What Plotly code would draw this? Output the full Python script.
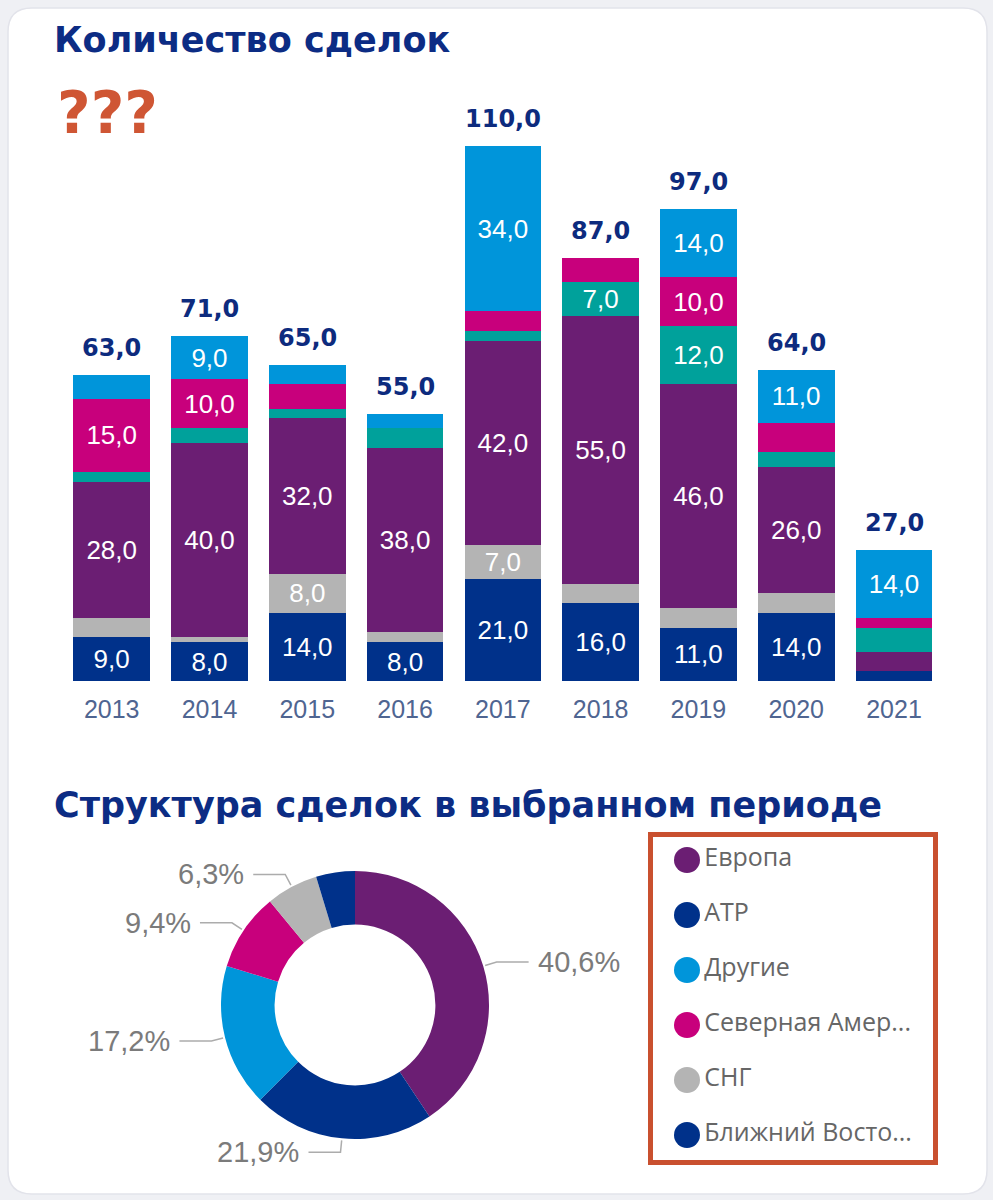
import plotly.graph_objects as go
from decimal import Decimal, ROUND_HALF_UP
import math

W, H = 993, 1200

# ---------------- data ----------------
years = ["2013", "2014", "2015", "2016", "2017", "2018", "2019", "2020", "2021"]
atr = [9, 8, 14, 8, 21, 16, 11, 14, 2]            # АТР
sng = [4, 1, 8, 2, 7, 4, 4, 4, 0]                 # СНГ
europe = [28, 40, 32, 38, 42, 55, 46, 26, 4]      # Европа
middle_east = [2, 3, 2, 4, 2, 7, 12, 3, 5]        # Ближний Восток
north_america = [15, 10, 5, 0, 4, 5, 10, 6, 2]    # Северная Америка
others = [5, 9, 4, 3, 34, 0, 14, 11, 14]          # Другие
selected_year = "2020"

title_main = "Количество сделок"
title_pie = "Структура сделок в выбранном периоде"

series = [
    ("АТР", atr, "#00318a"),
    ("СНГ", sng, "#b4b4b4"),
    ("Европа", europe, "#6b1e73"),
    ("Ближний Восток", middle_east, "#00a19b"),
    ("Северная Америка", north_america, "#c8007c"),
    ("Другие", others, "#0095da"),
]
pie_colors = {
    "Европа": "#6b1e73", "АТР": "#00318a", "Другие": "#0095da",
    "Северная Америка": "#c8007c", "СНГ": "#b4b4b4", "Ближний Восток": "#00318a",
}


def fmt1(v):
    return str(Decimal(str(v)).quantize(Decimal("0.1"), rounding=ROUND_HALF_UP)).replace(".", ",")


def px(x):
    return x / W


def py(y):
    return 1 - y / H


fig = go.Figure()

# ---------------- stacked bars ----------------
for name, vals, col in series:
    fig.add_trace(go.Bar(
        x=years, y=vals, name=name, marker=dict(color=col, line=dict(width=0)),
        text=[fmt1(v) if v >= 7 else "" for v in vals],
        textposition="inside", insidetextanchor="middle", textangle=0,
        constraintext="none",
        textfont=dict(family="Liberation Sans", size=26, color="white"),
        showlegend=False, hoverinfo="skip", xaxis="x", yaxis="y",
    ))

totals = [sum(s[1][i] for s in series) for i in range(len(years))]

annotations = []
for i, t in enumerate(totals):
    annotations.append(dict(
        x=i, y=t, xref="x", yref="y", text=fmt1(t), showarrow=False,
        yanchor="bottom", yshift=11,
        font=dict(family="DejaVu Sans", size=24, color="#0d2b7e", weight="bold"),
    ))

# ---------------- donut ----------------
idx = years.index(selected_year)
pie_pairs = sorted([(name, vals[idx]) for name, vals, _ in series], key=lambda p: -p[1])
pie_labels = [p[0] for p in pie_pairs]
pie_values = [p[1] for p in pie_pairs]

CX, CY, R = 355, 1005, 134
fig.add_trace(go.Pie(
    labels=pie_labels, values=pie_values, hole=0.6, sort=False,
    direction="clockwise", rotation=0, textinfo="none",
    marker=dict(colors=[pie_colors[l] for l in pie_labels], line=dict(width=0)),
    domain=dict(x=[px(CX - R), px(CX + R)], y=[py(CY + R), py(CY - R)]),
    showlegend=False, hoverinfo="label+percent",
))

shapes = []
# card background
x0c, y0c, x1c, y1c, rc = 8, 8, 987, 1194, 24
card = (f"M {px(x0c + rc)},{py(y0c)} L {px(x1c - rc)},{py(y0c)} "
        f"Q {px(x1c)},{py(y0c)} {px(x1c)},{py(y0c + rc)} L {px(x1c)},{py(y1c - rc)} "
        f"Q {px(x1c)},{py(y1c)} {px(x1c - rc)},{py(y1c)} L {px(x0c + rc)},{py(y1c)} "
        f"Q {px(x0c)},{py(y1c)} {px(x0c)},{py(y1c - rc)} L {px(x0c)},{py(y0c + rc)} "
        f"Q {px(x0c)},{py(y0c)} {px(x0c + rc)},{py(y0c)} Z")
shapes.append(dict(type="path", path=card, xref="paper", yref="paper",
                   fillcolor="white", line=dict(color="#e2e3ea", width=1.5), layer="below"))

# leader lines + percent labels (all but the smallest slice)
total_pie = sum(pie_values)
cum = 0
for lab, v in zip(pie_labels, pie_values):
    frac = v / total_pie
    mid = (cum + frac / 2) * 2 * math.pi
    cum += frac
    if lab == pie_labels[-1]:
        continue
    s, c = math.sin(mid), math.cos(mid)
    p0 = (CX + (R + 2) * s, CY - (R + 2) * c)
    p1 = (CX + (R + 14) * s, CY - (R + 14) * c)
    side = 1 if s >= 0 else -1
    p2 = (p1[0] + side * 32, p1[1])
    shapes.append(dict(type="path", xref="paper", yref="paper",
                       path=f"M {px(p0[0])},{py(p0[1])} L {px(p1[0])},{py(p1[1])} L {px(p2[0])},{py(p2[1])}",
                       line=dict(color="#acacac", width=1.5)))
    pct = Decimal(str(frac * 100)).quantize(Decimal("0.1"), rounding=ROUND_HALF_UP)
    annotations.append(dict(
        x=px(p2[0] + side * 7), y=py(p2[1]), xref="paper", yref="paper",
        text=str(pct).replace(".", ",") + "%", showarrow=False,
        xanchor="left" if side > 0 else "right", yanchor="middle",
        font=dict(family="Liberation Sans", size=29, color="#7b7b7b"),
    ))

# ---------------- legend (drawn as markers on its own axes) ----------------
leg_names = [n if len(n) <= 13 else n[:13] + "..." for n in pie_labels]
fig.add_trace(go.Scatter(
    x=[0] * len(pie_labels), y=list(range(len(pie_labels))), mode="markers+text",
    marker=dict(size=26, color=[pie_colors[l] for l in pie_labels]),
    text=leg_names, textposition="middle right",
    textfont=dict(family="Open Sans", size=25, color="#666666"),
    xaxis="x3", yaxis="y3", showlegend=False, hoverinfo="skip", cliponaxis=False,
))
shapes.append(dict(type="rect", xref="paper", yref="paper",
                   x0=px(650.5), x1=px(935.5), y0=py(1162.5), y1=py(834.5),
                   line=dict(color="#c9502f", width=5)))

# ---------------- titles ----------------
annotations += [
    dict(x=px(52), y=py(40), xref="paper", yref="paper", text=title_main, showarrow=False,
         xanchor="left", yanchor="middle",
         font=dict(family="DejaVu Sans", size=35, color="#0c2c84", weight="bold")),
    dict(x=px(55), y=py(113), xref="paper", yref="paper", text="???", showarrow=False,
         xanchor="left", yanchor="middle",
         font=dict(family="DejaVu Sans", size=58, color="#cf5634", weight="bold")),
    dict(x=px(52), y=py(805), xref="paper", yref="paper", text=title_pie, showarrow=False,
         xanchor="left", yanchor="middle",
         font=dict(family="DejaVu Sans", size=35, color="#0c2c84", weight="bold")),
]

fig.update_layout(
    width=W, height=H, margin=dict(l=0, r=0, t=0, b=0, autoexpand=False),
    paper_bgcolor="#eff0f4", plot_bgcolor="rgba(0,0,0,0)",
    barmode="stack", bargap=0.216, separators=", ",
    xaxis=dict(domain=[px(62.8), px(942.9)], type="category", showgrid=False,
               showline=False, zeroline=False, ticks="", ticklabelstandoff=11,
               automargin=False, range=[-0.5, len(years) - 0.5],
               tickfont=dict(family="Liberation Sans", size=25, color="#4f6591")),
    yaxis=dict(domain=[py(681), py(146)], range=[0, 110], visible=False, automargin=False),
    xaxis3=dict(domain=[px(687), px(938)], range=[0, 1], visible=False, fixedrange=True),
    yaxis3=dict(domain=[py(1162.5), py(832.5)], range=[5.5, -0.5], visible=False,
                fixedrange=True, anchor="x3"),
    annotations=annotations, shapes=shapes,
)

fig.write_html("out.html", config={"displayModeBar": False},
               post_script="document.body.style.margin='0px';document.body.style.background='#eff0f4';")
